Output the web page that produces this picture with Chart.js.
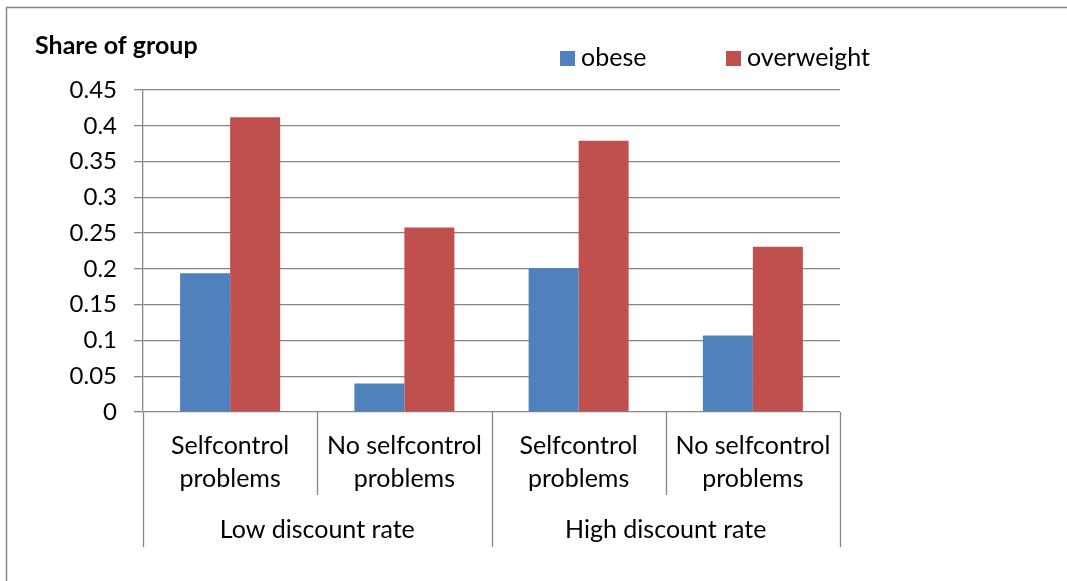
<!DOCTYPE html>
<html>
<head>
<meta charset="utf-8">
<title>Share of group</title>
<script src="https://cdn.jsdelivr.net/npm/chart.js@4.4.1/dist/chart.umd.min.js"></script>
<style>
  html, body { margin: 0; padding: 0; background: #ffffff; }
  #wrap { position: relative; width: 1067px; height: 581px; }
  canvas { display: block; }
</style>
</head>
<body>
<div id="wrap"><canvas id="chart" width="1067" height="581"></canvas></div>
<script>
// Sub-groups along the x axis (two lines each) and the discount-rate groups they belong to
const categories = [
  ['Selfcontrol', 'problems'],
  ['No selfcontrol', 'problems'],
  ['Selfcontrol', 'problems'],
  ['No selfcontrol', 'problems']
];
const groups = ['Low discount rate', 'High discount rate'];
const categoriesPerGroup = 2;

// Share of each sub-group that is obese / overweight
const obese = [0.194, 0.040, 0.201, 0.107];
const overweight = [0.412, 0.258, 0.379, 0.231];

// Value axis labels
const yTickLabels = ['0', '0.05', '0.1', '0.15', '0.2', '0.25', '0.3', '0.35', '0.4', '0.45'];

const FONT = 'Lato, "Open Sans", sans-serif';
const FONT_SIZE = 25;
const TICK_FONT_SIZE = 24;
const LINE = '#868686';
const BLUE = '#4F81BD';
const RED = '#C0504D';

// Frame, title, legend and the two-level category axis
const decorations = {
  id: 'decorations',
  afterDraw(chart) {
    const ctx = chart.ctx;
    const x = chart.scales.x;
    const area = chart.chartArea;
    ctx.save();

    // frame of the chart box
    ctx.strokeStyle = LINE;
    ctx.lineWidth = 1.5;
    ctx.beginPath();
    ctx.moveTo(6.5, 581);
    ctx.lineTo(6.5, 7.5);
    ctx.lineTo(1067, 7.5);
    ctx.stroke();

    // title
    ctx.fillStyle = '#000';
    ctx.textBaseline = 'middle';
    ctx.textAlign = 'left';
    ctx.font = 'bold ' + FONT_SIZE + 'px ' + FONT;
    ctx.fillText('Share of group', 35, 46);

    // legend
    ctx.font = FONT_SIZE + 'px ' + FONT;
    const legendX = [560, 726];
    chart.data.datasets.forEach((ds, i) => {
      ctx.fillStyle = ds.backgroundColor;
      ctx.fillRect(legendX[i], 51, 15, 15);
      ctx.fillStyle = '#000';
      ctx.fillText(ds.label, legendX[i] + 21, 58);
    });

    // category separators and labels
    const step = x.getPixelForValue(1) - x.getPixelForValue(0);
    const base = area.bottom;
    ctx.strokeStyle = LINE;
    ctx.lineWidth = 1.3;
    for (let i = 0; i <= categories.length; i++) {
      const px = Math.round(x.getPixelForValue(i) - step / 2) + 0.5;
      const isGroupEdge = i % categoriesPerGroup === 0;
      ctx.beginPath();
      ctx.moveTo(px, base);
      ctx.lineTo(px, isGroupEdge ? 547 : 495);
      ctx.stroke();
    }
    ctx.fillStyle = '#000';
    ctx.textAlign = 'center';
    categories.forEach((lines, i) => {
      const cx = x.getPixelForValue(i);
      lines.forEach((t, j) => ctx.fillText(t, cx, 446 + j * 33));
    });
    groups.forEach((g, k) => {
      const a = x.getPixelForValue(k * categoriesPerGroup);
      const b = x.getPixelForValue(k * categoriesPerGroup + categoriesPerGroup - 1);
      ctx.fillText(g, (a + b) / 2, 530);
    });
    ctx.restore();
  }
};

new Chart(document.getElementById('chart'), {
  type: 'bar',
  data: {
    labels: categories.map(c => c.join(' ')),
    datasets: [
      { label: 'obese', data: obese, backgroundColor: BLUE, borderWidth: 0 },
      { label: 'overweight', data: overweight, backgroundColor: RED, borderWidth: 0 }
    ]
  },
  options: {
    responsive: false,
    animation: false,
    devicePixelRatio: 1,
    layout: { padding: { left: 0, top: 90, right: 227, bottom: 169 } },
    datasets: { bar: { categoryPercentage: 0.574, barPercentage: 1 } },
    plugins: { legend: { display: false }, tooltip: { enabled: false } },
    scales: {
      x: { display: false },
      y: {
        min: 0,
        max: 0.45,
        afterFit(scale) { scale.width = 143; },
        border: { display: true, color: LINE, width: 1.3 },
        grid: { color: LINE, lineWidth: 1.3, tickLength: 9 },
        ticks: {
          stepSize: 0.05,
          padding: 17,
          color: '#000',
          font: { family: FONT, size: TICK_FONT_SIZE },
          callback: (v, i) => yTickLabels[i]
        }
      }
    }
  },
  plugins: [decorations]
});
</script>
</body>
</html>
